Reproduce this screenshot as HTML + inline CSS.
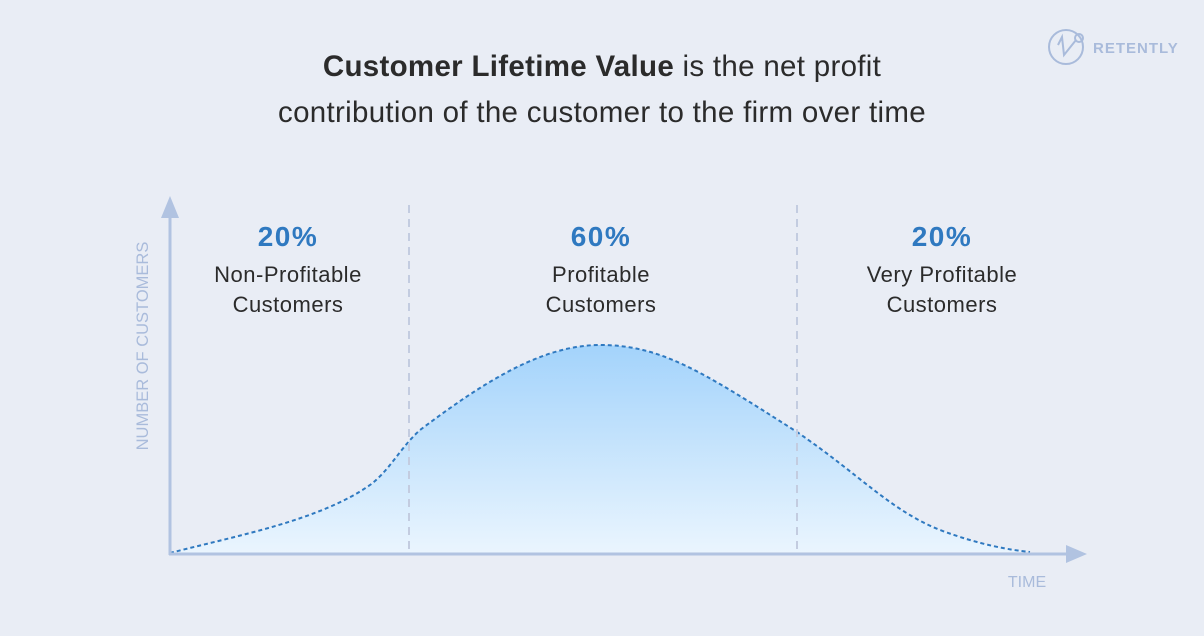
<!DOCTYPE html>
<html><head><style>
html,body{margin:0;padding:0}
body{width:1204px;height:636px;background:#e9edf5;font-family:"Liberation Sans",sans-serif;position:relative;overflow:hidden}
.t{position:absolute;left:0;width:1204px;text-align:center;color:#2b2b2b;font-size:29.5px;line-height:46px;letter-spacing:0.3px}
.lab{position:absolute;text-align:center;width:260px;color:#2b2b2b;font-size:22px;line-height:30px;letter-spacing:0.5px}
.lab b{display:block;color:#2f79c0;font-size:28px;line-height:34px;margin-bottom:6px;letter-spacing:1.5px}
</style></head><body>
<div class="t" style="top:44px"><b>Customer Lifetime Value</b> is the net profit</div>
<div class="t" style="top:90px">contribution of the customer to the firm over time</div>
<svg width="1204" height="636" style="position:absolute;left:0;top:0">
<defs><linearGradient id="g" x1="0" y1="0" x2="0" y2="1"><stop offset="0" stop-color="#a3d3fb"/><stop offset="1" stop-color="#eaf5fe"/></linearGradient></defs>
<path d="M170,553 C240,535 320,520 370,485 C390,470 400,448 420,430 C480,385 540,345 600,345 C660,345 700,370 797,432 C860,475 890,510 940,530 C980,545 1010,550 1030,552 Z" fill="url(#g)"/>
<path d="M170,553 C240,535 320,520 370,485 C390,470 400,448 420,430 C480,385 540,345 600,345 C660,345 700,370 797,432 C860,475 890,510 940,530 C980,545 1010,550 1030,552" fill="none" stroke="#2f79c0" stroke-width="2" stroke-dasharray="4,3"/>
<line x1="409" y1="205" x2="409" y2="552" stroke="#c3cce0" stroke-width="2" stroke-dasharray="8,6"/>
<line x1="797" y1="205" x2="797" y2="552" stroke="#c3cce0" stroke-width="2" stroke-dasharray="8,6"/>
<line x1="170" y1="215" x2="170" y2="555" stroke="#b1c3e1" stroke-width="3"/>
<polygon points="170,196 161,218 179,218" fill="#b1c3e1"/>
<line x1="169" y1="554" x2="1068" y2="554" stroke="#b1c3e1" stroke-width="3"/>
<polygon points="1087,554 1066,545 1066,563" fill="#b1c3e1"/>
<text x="1027" y="587" text-anchor="middle" fill="#a9bbdb" font-size="16" font-family="Liberation Sans">TIME</text>
<text transform="translate(148,346) rotate(-90)" text-anchor="middle" fill="#a9bbdb" font-size="16.5" font-family="Liberation Sans">NUMBER OF CUSTOMERS</text>
<circle cx="1066" cy="47" r="17" fill="none" stroke="#a9bbdb" stroke-width="2"/>
<path d="M1058,45 L1062,37 L1064,55 L1076,40" fill="none" stroke="#a9bbdb" stroke-width="2"/>
<circle cx="1079" cy="38" r="4" fill="none" stroke="#a9bbdb" stroke-width="2"/>
<text x="1093" y="53" fill="#a9bbdb" font-size="15" font-weight="bold" font-family="Liberation Sans" letter-spacing="1">RETENTLY</text>
</svg>
<div class="lab" style="left:158px;top:220px"><b>20%</b>Non-Profitable<br>Customers</div>
<div class="lab" style="left:471px;top:220px"><b>60%</b>Profitable<br>Customers</div>
<div class="lab" style="left:812px;top:220px"><b>20%</b>Very Profitable<br>Customers</div>
</body></html>
